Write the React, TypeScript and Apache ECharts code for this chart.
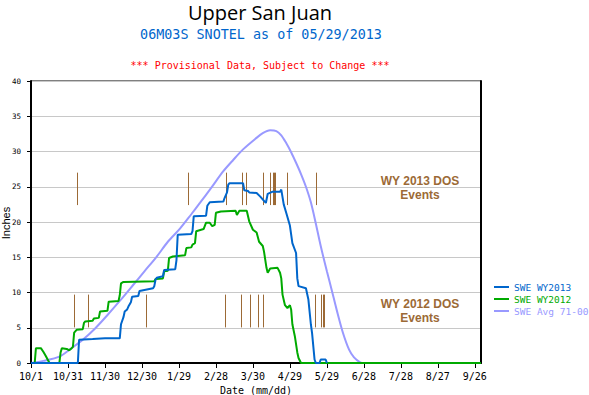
import React, { useEffect, useRef } from "react";
import * as echarts from "echarts";

// Day index 0 = Oct 1 (water year), axis spans 365 days
const tickDays = [0, 30, 60, 90, 120, 150, 180, 210, 240, 270, 300, 330, 360];
const tickLabels = ["10/1", "10/31", "11/30", "12/30", "1/29", "2/28", "3/30", "4/29", "5/29", "6/28", "7/28", "8/27", "9/26"];

const sweWY2013: [number, number][] = [
  [0, 0], [38, 0], [39, 3.3], [50, 3.4], [60, 3.5], [72, 3.5], [73, 5.5], [75, 6.5], [76, 7.3], [78, 7.6],
  [79, 8.0], [81, 8.6], [82, 9.4], [87, 9.5], [88, 10.2], [99, 10.6], [100, 10.9], [101, 11.8], [102, 12.1],
  [107, 12.3], [108, 13.2], [117, 13.3], [118, 14.6], [119, 18.2], [130, 18.3], [131, 18.7], [132, 20.8],
  [142, 20.9], [143, 22.3], [145, 22.8], [156, 22.9], [157, 23.4], [159, 24.2], [160, 25.3], [161, 25.5],
  [172, 25.5], [173, 24.5], [176, 24.4], [177, 24.2], [183, 24.1], [186, 23.6], [189, 23.0], [190.5, 22.7],
  [192, 24.0], [196, 24.3], [202, 24.3], [203, 24.6], [205, 22.5], [207, 21.3], [210, 19.5], [212, 17.0],
  [215, 15.6], [216, 12.0], [217, 10.9], [223, 10.6], [225, 9.0], [227, 5.5], [228, 4.2], [230, 0.5],
  [231, 0], [234, 0], [235, 0.5], [239, 0.5], [240, 0],
];

const sweWY2012: [number, number][] = [
  [0, 0], [3, 0], [4, 2.1], [8, 2.1], [10, 1.6], [12, 1.0], [15, 0], [23, 0], [24, 1.5], [25, 2.1],
  [29, 2.0], [31, 1.8], [33, 2.1], [34, 2.3], [35, 4.3], [37, 4.7], [42, 4.8], [43, 5.7], [44, 5.9],
  [50, 6.0], [51, 6.3], [55, 6.4], [56, 7.3], [62, 7.4], [63, 8.7], [71, 8.8], [72, 9.6], [73, 11.3],
  [75, 11.5], [100, 11.6], [101, 11.9], [107, 12.0], [108, 13.0], [111, 13.1], [112, 14.9], [115, 15.1],
  [125, 15.3], [126, 16.3], [130, 16.4], [131, 16.8], [133, 17.0], [134, 18.7], [140, 19.0], [142, 19.9],
  [145, 19.9], [147, 19.4], [149, 19.6], [150, 21.3], [154, 21.5], [166, 21.6], [167, 21.0], [169, 21.6],
  [175, 21.6], [177, 20.1], [180, 18.9], [183, 18.5], [185, 17.2], [188, 16.6], [189, 15.8], [191, 13.5],
  [192, 12.8], [194, 13.4], [200, 13.5], [202, 12.8], [203, 12.0], [204, 9.7], [206, 8.2], [208, 7.8],
  [210, 8.2], [211, 7.6], [212, 5.5], [214, 3.8], [216, 1.5], [217, 0.7], [219, 0], [365, 0],
];

const sweAvg7100: [number, number][] = [
  [0, 0], [10, 0.3], [23, 0.9], [32, 2.0], [42, 3.3], [52, 4.9], [61, 6.6], [72, 8.8], [83, 11.1],
  [92, 13.0], [102, 15.1], [111, 17.2], [121, 19.1], [130, 21.1], [137, 22.7], [146, 24.8], [156, 27.2],
  [164, 28.8], [172, 30.3], [182, 31.8], [188, 32.6], [194, 33.0], [199, 32.9], [203, 32.3], [207, 31.2],
  [211, 29.9], [215, 28.4], [219, 26.8], [223, 25.0], [227, 22.8], [231, 19.8], [235, 16.6], [240, 13.0],
  [244, 10.3], [248, 7.5], [253, 4.3], [258, 1.9], [262, 0.8], [267, 0.1], [270, 0], [365, 0],
];

const dos2013Days = [37, 127, 158, 171, 174, 188, 194, 196, 197, 198, 208, 231];
const dos2012Days = [35, 46, 93, 157, 170, 178, 184, 188, 230, 235, 237, 238];
const dos2013Span = [22.4, 27.0];
const dos2012Span = [5.05, 9.7];

const BLUE = "#0066cc";
const GREEN = "#00aa00";
const PURPLE = "#9999ff";
const BROWN = "#9c6a36";

function eventSeries(days: number[], span: number[]) {
  return {
    type: "custom",
    silent: true,
    z: 1,
    data: days.map((d) => [d, span[0], span[1]]),
    encode: { x: 0, y: [1, 2] },
    renderItem: (_p: any, api: any) => {
      const a = api.coord([api.value(0), api.value(1)]);
      const b = api.coord([api.value(0), api.value(2)]);
      const x = Math.round(a[0]) + 0.5;
      return {
        type: "line",
        shape: { x1: x, y1: b[1], x2: x, y2: a[1] },
        style: { stroke: BROWN, lineWidth: 1 },
      };
    },
  };
}

export default function App() {
  const ref = useRef<HTMLDivElement>(null);
  useEffect(() => {
    const chart = echarts.init(ref.current!, null, { renderer: "svg" });
    const mono = "DejaVu Sans Mono";
    chart.setOption({
      animation: false,
      backgroundColor: "#ffffff",
      grid: {
        left: 31, right: 108, top: 81, bottom: 32,
        outerBoundsMode: "none", containLabel: false,
        show: true, borderColor: "#000", borderWidth: 1,
      },
      graphic: [
        { type: "text", x: 260, y: 12.5, style: { text: "Upper San Juan", font: '20px "Open Sans"', fill: "#000", align: "center", verticalAlign: "middle" } },
        { type: "text", x: 261, y: 34, style: { text: "06M03S SNOTEL as of 05/29/2013", font: `13.4px "${mono}"`, fill: BLUE, align: "center", verticalAlign: "middle" } },
        { type: "text", x: 260, y: 65, style: { text: "*** Provisional Data, Subject to Change ***", font: `10px "${mono}"`, fill: "#ff0000", align: "center", verticalAlign: "middle" } },
        { type: "text", x: 5.5, y: 223, rotation: Math.PI / 2, style: { text: "Inches", font: '11px "Liberation Sans"', fill: "#000", align: "center", verticalAlign: "middle" } },
        { type: "text", x: 420, y: 181, style: { text: "WY 2013 DOS", font: 'bold 12px "Liberation Sans"', fill: BROWN, align: "center", verticalAlign: "middle" } },
        { type: "text", x: 420, y: 195, style: { text: "Events", font: 'bold 12px "Liberation Sans"', fill: BROWN, align: "center", verticalAlign: "middle" } },
        { type: "text", x: 420, y: 304, style: { text: "WY 2012 DOS", font: 'bold 12px "Liberation Sans"', fill: BROWN, align: "center", verticalAlign: "middle" } },
        { type: "text", x: 420, y: 318, style: { text: "Events", font: 'bold 12px "Liberation Sans"', fill: BROWN, align: "center", verticalAlign: "middle" } },
      ],
      legend: {
        orient: "vertical",
        left: 489,
        top: 277,
        icon: "rect",
        itemWidth: 15,
        itemHeight: 2,
        itemGap: 2,
        textStyle: { fontFamily: mono, fontSize: 9.5, lineHeight: 10 },
        data: [
          { name: "SWE WY2013", textStyle: { color: BLUE } },
          { name: "SWE WY2012", textStyle: { color: GREEN } },
          { name: "SWE Avg 71-00", textStyle: { color: PURPLE } },
        ],
      },
      xAxis: {
        type: "value",
        min: 0,
        max: 365,
        interval: 30,
        name: "Date (mm/dd)",
        nameLocation: "middle",
        nameGap: 19,
        nameTextStyle: { fontFamily: mono, fontSize: 10, color: "#000" },
        axisLine: { show: true, onZero: false, lineStyle: { color: "#000", width: 2 } },
        axisTick: { show: true, length: 5, customValues: tickDays, lineStyle: { color: "#000" } },
        axisLabel: {
          customValues: tickDays,
          margin: 8,
          fontFamily: mono,
          fontSize: 10,
          color: "#000",
          formatter: (v: number) => {
            const i = tickDays.indexOf(v);
            return i >= 0 ? tickLabels[i] : "";
          },
        },
        splitLine: { show: false },
      },
      yAxis: [
        {
          type: "value",
          min: 0,
          max: 40,
          interval: 5,
          axisLine: { show: true, lineStyle: { color: "#000", width: 2 } },
          axisTick: { show: true, length: 4, lineStyle: { color: "#000" } },
          axisLabel: { margin: 10, fontFamily: mono, fontSize: 7.5, color: "#000" },
          splitLine: { show: true, lineStyle: { color: "#c8c8c8", width: 1 } },
        },
        {
          type: "value",
          min: 0,
          max: 40,
          interval: 5,
          position: "right",
          axisLine: { show: true, lineStyle: { color: "#000", width: 2 } },
          axisTick: { show: false },
          axisLabel: { show: false },
          splitLine: { show: false },
        },
      ],
      series: [
        eventSeries(dos2013Days, dos2013Span),
        eventSeries(dos2012Days, dos2012Span),
        {
          name: "SWE Avg 71-00",
          type: "line",
          data: sweAvg7100,
          smooth: 0.3,
          showSymbol: false,
          symbol: "none",
          color: PURPLE,
          lineStyle: { color: PURPLE, width: 2 },
          z: 2,
        },
        {
          name: "SWE WY2012",
          type: "line",
          data: sweWY2012,
          showSymbol: false,
          symbol: "none",
          color: GREEN,
          lineStyle: { color: GREEN, width: 2 },
          z: 3,
        },
        {
          name: "SWE WY2013",
          type: "line",
          data: sweWY2013,
          showSymbol: false,
          symbol: "none",
          color: BLUE,
          lineStyle: { color: BLUE, width: 2 },
          z: 4,
        },
      ],
    });
    return () => chart.dispose();
  }, []);
  return <div ref={ref} style={{ position: "fixed", left: 0, top: 0, width: 589, height: 395 }} />;
}
